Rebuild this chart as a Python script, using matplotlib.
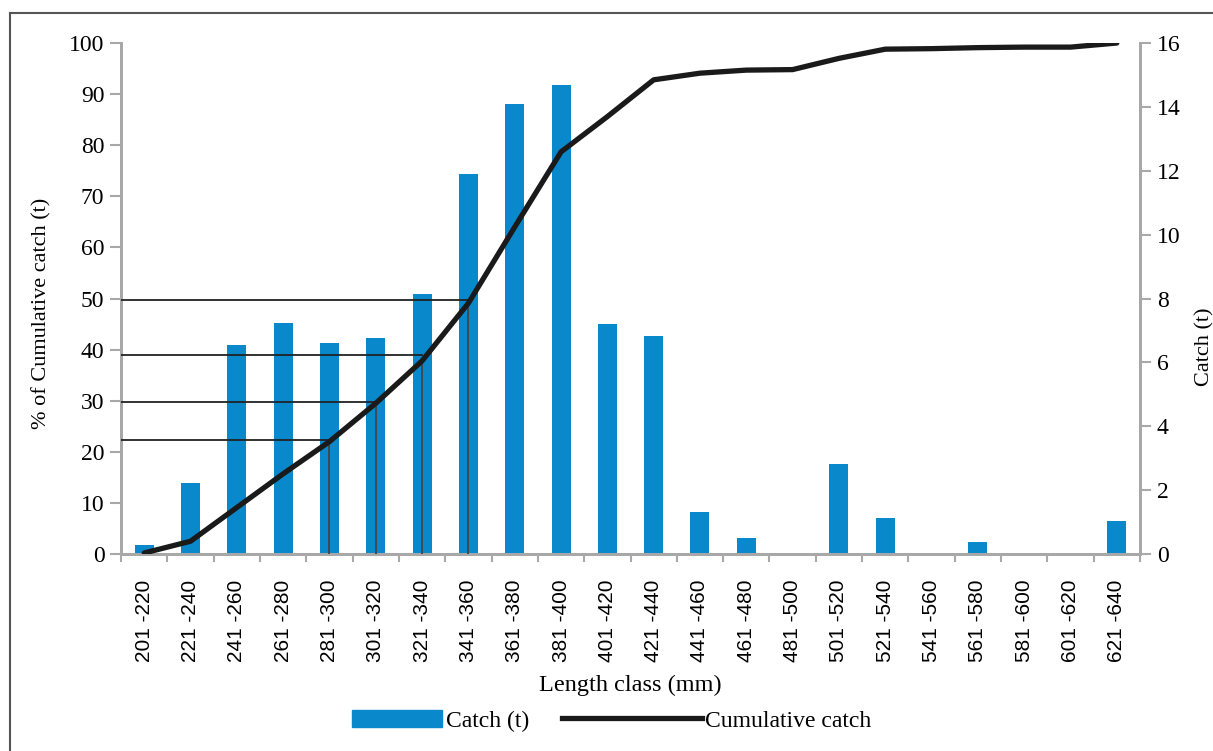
import numpy as np
import matplotlib
matplotlib.use('Agg')
import matplotlib.pyplot as plt
from matplotlib.lines import Line2D
from matplotlib.patches import Patch

# length classes (mm)
classes = ['201 -220', '221 -240', '241 -260', '261 -280', '281 -300', '301 -320',
           '321 -340', '341 -360', '361 -380', '381 -400', '401 -420', '421 -440',
           '441 -460', '461 -480', '481 -500', '501 -520', '521 -540', '541 -560',
           '561 -580', '581 -600', '601 -620', '621 -640']

# catch per class (t), right axis
catch_t = [0.28, 2.22, 6.54, 7.23, 6.61, 6.76, 8.14, 11.9, 14.1, 14.7, 7.2,
           6.83, 1.31, 0.51, 0.0, 2.82, 1.14, 0.0, 0.38, 0.0, 0.0, 1.02]

# cumulative catch (%), left axis
cum_pct = [0.2, 2.5, 9.1, 15.7, 22.0, 29.5, 37.8, 49.1, 64.0, 78.7, 85.6,
           92.8, 94.1, 94.7, 94.8, 97.0, 98.8, 98.9, 99.1, 99.2, 99.2, 100.0]

# reference read-offs: level (%) and class index where they meet the curve
ref_levels = [22.3, 29.8, 38.9, 49.7]
ref_idx = [4, 5, 6, 7]

BLUE = '#0a88cc'
LINE = '#1a1a1a'
SPINE = '#a8a8a8'

plt.rcParams['font.family'] = 'Liberation Serif'

fig = plt.figure(figsize=(12.13, 7.51), dpi=100)
ax1 = fig.add_axes([0.0998, 0.2623, 0.8400, 0.6804])
ax2 = ax1.twinx()

x = np.arange(len(classes))

# bars on the right (catch) axis
ax2.bar(x, catch_t, width=0.41, color=BLUE, zorder=2)
ax2.set_ylim(0, 16)
ax2.set_yticks(np.arange(0, 17, 2))

# cumulative line + reference lines on the left axis
ax1.set_zorder(ax2.get_zorder() + 1)
ax1.patch.set_visible(False)
for lvl, i in zip(ref_levels, ref_idx):
    ax1.plot([-0.5, x[i]], [lvl, lvl], color='#222222', lw=1.3, zorder=3)
    ax1.plot([x[i], x[i]], [0, cum_pct[i]], color='#444444', lw=1.3, zorder=3)
ax1.plot(x, cum_pct, color=LINE, lw=3.8, solid_capstyle='round',
         solid_joinstyle='round', zorder=4)

ax1.set_xlim(-0.5, len(classes) - 0.5)
ax1.set_ylim(0, 100)
ax1.set_yticks(np.arange(0, 101, 10))

ax1.set_xticks(x)
ax1.set_xticklabels(classes, rotation=90, family='Liberation Sans', fontsize=15)
ax1.set_xticks(np.arange(-0.5, len(classes), 1), minor=True)
ax1.tick_params(axis='x', which='major', length=0, pad=18.5)
ax1.tick_params(axis='x', which='minor', length=6, width=1.5, color=SPINE, direction='out')
ax1.tick_params(axis='y', length=8, width=1.5, color=SPINE, labelsize=17, pad=4)
ax2.tick_params(axis='y', length=8, width=1.5, color=SPINE, labelsize=17, pad=4)

for ax in (ax1, ax2):
    ax.spines['top'].set_visible(False)
    for s in ('left', 'right', 'bottom'):
        ax.spines[s].set_color(SPINE)
        ax.spines[s].set_linewidth(2.0)

ax1.set_ylabel('% of Cumulative catch (t)', fontsize=16)
ax1.yaxis.set_label_coords(-0.068, 0.47)
ax2.set_ylabel('Catch (t)', fontsize=16)
ax2.yaxis.set_label_coords(1.0545, 0.405)
ax1.set_xlabel('Length class (mm)', fontsize=17.5, labelpad=9)

# legend: two pieces so that the patch and the line can have their own lengths
leg1 = fig.legend(handles=[Patch(color=BLUE, label='Catch (t)')],
                  loc='center left', bbox_to_anchor=(0.2905, 0.040),
                  frameon=False, fontsize=17, handlelength=3.8, handleheight=0.75,
                  handletextpad=0.15, borderaxespad=0, borderpad=0)
leg2 = fig.legend(handles=[Line2D([0], [0], color=LINE, lw=3.8, label='Cumulative catch')],
                  loc='center left', bbox_to_anchor=(0.4635, 0.040),
                  frameon=False, fontsize=17, handlelength=5.9,
                  handletextpad=0.15, borderaxespad=0, borderpad=0)

# outer frame (top and left edges)
fig.add_artist(Line2D([9.5 / 1213, 1], [1 - 13 / 751, 1 - 13 / 751],
                      transform=fig.transFigure, color='#555555', lw=1.5))
fig.add_artist(Line2D([9.5 / 1213, 9.5 / 1213], [0, 1 - 13 / 751],
                      transform=fig.transFigure, color='#555555', lw=1.5))

fig.savefig('out.png', dpi=100)
